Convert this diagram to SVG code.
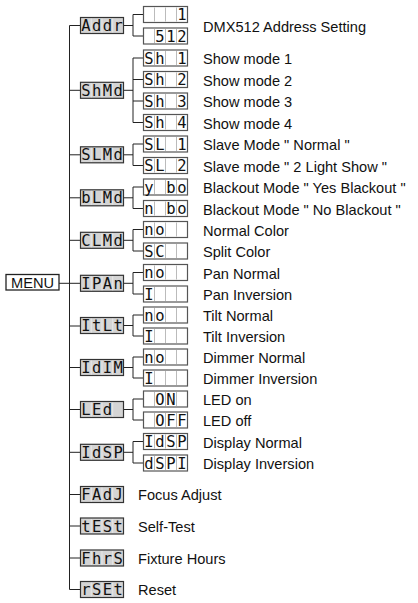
<svg xmlns="http://www.w3.org/2000/svg" xmlns:xlink="http://www.w3.org/1999/xlink" width="418" height="603" viewBox="0 0 418 603">
<style>
.ln{stroke:#222;stroke-width:1;fill:none}
.seg{font-family:"DejaVu Sans Mono","Liberation Mono",monospace;font-size:15.5px;fill:#111;text-anchor:middle}
.lbl{font-family:"Liberation Sans",Arial,sans-serif;font-size:14.6px;fill:#111}
.menu{font-family:"Liberation Sans",Arial,sans-serif;font-size:14.6px;fill:#111;text-anchor:middle}
</style>
<defs>
<g id="mbox">
<rect x="0" y="0" width="43" height="16" fill="#d4d4d4" stroke="#333" stroke-width="1.2"/>
<path d="M10.75 1V15M21.5 1V15M32.25 1V15" stroke="#ececec" stroke-width="0.8"/>
</g>
<g id="sbox">
<rect x="0" y="0" width="44" height="16" fill="#fff" stroke="#555" stroke-width="1.2"/>
<path d="M11 1V15M22 1V15M33 1V15" stroke="#aaa" stroke-width="0.8"/>
</g>
</defs>
<rect width="418" height="603" fill="#fff"/>

<g id="connectors">
<path class="ln" d="M80.5 25.5H69.5V589.5H80.5"/>
<path class="ln" d="M59 283.3H80.5"/>
<path class="ln" d="M69.5 90.3H80.5M69.5 154.8H80.5M69.5 197.8H80.5M69.5 240.3H80.5M69.5 326H80.5M69.5 367.5H80.5M69.5 409.5H80.5M69.5 452.3H80.5M69.5 494.5H80.5M69.5 526H80.5M69.5 558H80.5"/>
<path class="ln" d="M123.5 25.5H133M143.5 14.5H133V36H143.5"/>
<path class="ln" d="M123.5 90.3H133M143.5 58H133V122.5H143.5M133 79.5H143.5M133 101H143.5"/>
<path class="ln" d="M123.5 154.8H133M143.5 144H133V165.5H143.5"/>
<path class="ln" d="M123.5 197.8H133M143.5 187H133V208.5H143.5"/>
<path class="ln" d="M123.5 240.3H133M143.5 229.5H133V251H143.5"/>
<path class="ln" d="M123.5 283.3H133M143.5 272.5H133V294H143.5"/>
<path class="ln" d="M123.5 325.5H133M143.5 315H133V336H143.5"/>
<path class="ln" d="M123.5 367.5H133M143.5 357H133V378H143.5"/>
<path class="ln" d="M123.5 409.5H133M143.5 399H133V420H143.5"/>
<path class="ln" d="M123.5 452.3H133M143.5 441.5H133V463H143.5"/>
</g>

<g id="menu">
<rect x="6" y="274.5" width="53" height="15.5" fill="#fff" stroke="#222" stroke-width="1.3"/>
<text class="menu" x="32.5" y="287.5">MENU</text>
</g>

<g id="addr">
<use xlink:href="#mbox" x="80.5" y="17.5"/>
<text class="seg" x="85.9 96.6 107.4 118.1" y="31">Addr</text>
<use xlink:href="#sbox" x="143.5" y="6.5"/>
<text class="seg" x="182" y="20">1</text>
<use xlink:href="#sbox" x="143.5" y="28"/>
<text class="seg" x="160 171 182" y="41.5">512</text>
<text class="lbl" x="203" y="31.5">DMX512 Address Setting</text>
</g>

<g id="shmd">
<use xlink:href="#mbox" x="80.5" y="82.3"/>
<text class="seg" x="85.9 96.6 107.4 118.1" y="95.8">ShMd</text>
<use xlink:href="#sbox" x="143.5" y="50"/>
<text class="seg" x="149 160 182" y="63.5">Sh1</text>
<use xlink:href="#sbox" x="143.5" y="71.5"/>
<text class="seg" x="149 160 182" y="85">Sh2</text>
<use xlink:href="#sbox" x="143.5" y="93"/>
<text class="seg" x="149 160 182" y="106.5">Sh3</text>
<use xlink:href="#sbox" x="143.5" y="114.5"/>
<text class="seg" x="149 160 182" y="128">Sh4</text>
<text class="lbl" x="203" y="64">Show mode 1</text>
<text class="lbl" x="203" y="85.5">Show mode 2</text>
<text class="lbl" x="203" y="107">Show mode 3</text>
<text class="lbl" x="203" y="128.5">Show mode 4</text>
</g>

<g id="slmd">
<use xlink:href="#mbox" x="80.5" y="146.8"/>
<text class="seg" x="85.9 96.6 107.4 118.1" y="160.3">SLMd</text>
<use xlink:href="#sbox" x="143.5" y="136"/>
<text class="seg" x="149 160 182" y="149.5">SL1</text>
<use xlink:href="#sbox" x="143.5" y="157.5"/>
<text class="seg" x="149 160 182" y="171">SL2</text>
<text class="lbl" x="203" y="150">Slave Mode " Normal "</text>
<text class="lbl" x="203" y="171.5">Slave mode " 2 Light Show "</text>
</g>

<g id="blmd">
<use xlink:href="#mbox" x="80.5" y="189.8"/>
<text class="seg" x="85.9 96.6 107.4 118.1" y="203.3">bLMd</text>
<use xlink:href="#sbox" x="143.5" y="179"/>
<text class="seg" x="149 171 182" y="192.5">ybo</text>
<use xlink:href="#sbox" x="143.5" y="200.5"/>
<text class="seg" x="149 171 182" y="214">nbo</text>
<text class="lbl" x="203" y="193">Blackout Mode " Yes Blackout "</text>
<text class="lbl" x="203" y="214.5">Blackout Mode " No Blackout "</text>
</g>

<g id="clmd">
<use xlink:href="#mbox" x="80.5" y="232.3"/>
<text class="seg" x="85.9 96.6 107.4 118.1" y="245.8">CLMd</text>
<use xlink:href="#sbox" x="143.5" y="221.5"/>
<text class="seg" x="149 160" y="235">no</text>
<use xlink:href="#sbox" x="143.5" y="243"/>
<text class="seg" x="149 160" y="256.5">SC</text>
<text class="lbl" x="203" y="235.5">Normal Color</text>
<text class="lbl" x="203" y="257">Split Color</text>
</g>

<g id="ipan">
<use xlink:href="#mbox" x="80.5" y="275.3"/>
<text class="seg" x="85.9 96.6 107.4 118.1" y="288.8">IPAn</text>
<use xlink:href="#sbox" x="143.5" y="264.5"/>
<text class="seg" x="149 160" y="278">no</text>
<use xlink:href="#sbox" x="143.5" y="286"/>
<text class="seg" x="149" y="299.5">I</text>
<text class="lbl" x="203" y="278.5">Pan Normal</text>
<text class="lbl" x="203" y="300">Pan Inversion</text>
</g>

<g id="itlt">
<use xlink:href="#mbox" x="80.5" y="317.5"/>
<text class="seg" x="85.9 96.6 107.4 118.1" y="331">ItLt</text>
<use xlink:href="#sbox" x="143.5" y="307"/>
<text class="seg" x="149 160" y="320.5">no</text>
<use xlink:href="#sbox" x="143.5" y="328"/>
<text class="seg" x="149" y="341.5">I</text>
<text class="lbl" x="203" y="321">Tilt Normal</text>
<text class="lbl" x="203" y="342">Tilt Inversion</text>
</g>

<g id="idim">
<use xlink:href="#mbox" x="80.5" y="359.5"/>
<text class="seg" x="85.9 96.6 107.4 118.1" y="373">IdIM</text>
<use xlink:href="#sbox" x="143.5" y="349"/>
<text class="seg" x="149 160" y="362.5">no</text>
<use xlink:href="#sbox" x="143.5" y="370"/>
<text class="seg" x="149" y="383.5">I</text>
<text class="lbl" x="203" y="363">Dimmer Normal</text>
<text class="lbl" x="203" y="384">Dimmer Inversion</text>
</g>

<g id="led">
<use xlink:href="#mbox" x="80.5" y="401.5"/>
<text class="seg" x="85.9 96.6 107.4" y="415">LEd</text>
<use xlink:href="#sbox" x="143.5" y="391"/>
<text class="seg" x="160 171" y="404.5">ON</text>
<use xlink:href="#sbox" x="143.5" y="412"/>
<text class="seg" x="160 171 182" y="425.5">OFF</text>
<text class="lbl" x="203" y="405">LED on</text>
<text class="lbl" x="203" y="426">LED off</text>
</g>

<g id="idsp">
<use xlink:href="#mbox" x="80.5" y="444.3"/>
<text class="seg" x="85.9 96.6 107.4 118.1" y="457.8">IdSP</text>
<use xlink:href="#sbox" x="143.5" y="433.5"/>
<text class="seg" x="149 160 171 182" y="447">IdSP</text>
<use xlink:href="#sbox" x="143.5" y="455"/>
<text class="seg" x="149 160 171 182" y="468.5">dSPI</text>
<text class="lbl" x="203" y="447.5">Display Normal</text>
<text class="lbl" x="203" y="469">Display Inversion</text>
</g>

<g id="fadj">
<use xlink:href="#mbox" x="80.5" y="486.5"/>
<text class="seg" x="85.9 96.6 107.4 118.1" y="500">FAdJ</text>
<text class="lbl" x="138" y="500">Focus Adjust</text>
</g>

<g id="test">
<use xlink:href="#mbox" x="80.5" y="518"/>
<text class="seg" x="85.9 96.6 107.4 118.1" y="531.5">tESt</text>
<text class="lbl" x="138" y="531.5">Self-Test</text>
</g>

<g id="fhrs">
<use xlink:href="#mbox" x="80.5" y="550"/>
<text class="seg" x="85.9 96.6 107.4 118.1" y="563.5">FhrS</text>
<text class="lbl" x="138" y="563.5">Fixture Hours</text>
</g>

<g id="rset">
<use xlink:href="#mbox" x="80.5" y="581.5"/>
<text class="seg" x="85.9 96.6 107.4 118.1" y="595">rSEt</text>
<text class="lbl" x="138" y="595">Reset</text>
</g>
</svg>
